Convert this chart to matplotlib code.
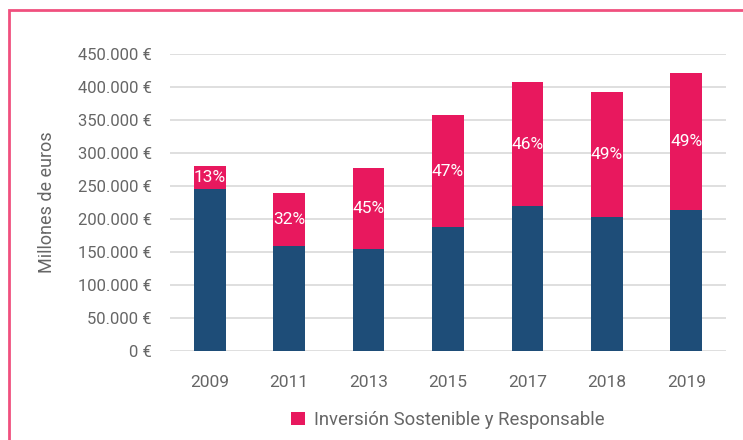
import matplotlib
matplotlib.use("Agg")
import matplotlib.pyplot as plt
from matplotlib.patches import Rectangle
from matplotlib.ticker import FuncFormatter

years = ['2009', '2011', '2013', '2015', '2017', '2018', '2019']
conventional = [245000, 159000, 155000, 188000, 220000, 203000, 214000]
sustainable = [35000, 80000, 122000, 169000, 187000, 189000, 207000]
pct_labels = ['13%', '32%', '45%', '47%', '46%', '49%', '49%']
y_ticks = [0, 50000, 100000, 150000, 200000, 250000, 300000, 350000, 400000, 450000]

BLUE = '#1E4D78'
PINK = '#E8185E'
GRAY = '#666666'

plt.rcParams['font.family'] = ['Roboto', 'DejaVu Sans']

fig = plt.figure(figsize=(7.43, 4.40), dpi=100)
ax = fig.add_axes([170/743, 1-351/440, (726-170)/743, (351-54)/440])

x = list(range(len(years)))
ax.bar(x, conventional, width=0.4, color=BLUE, zorder=3)
ax.bar(x, sustainable, width=0.4, bottom=conventional, color=PINK, zorder=3,
       label='Inversión Sostenible y Responsable')

for i, (c, s, p) in enumerate(zip(conventional, sustainable, pct_labels)):
    ax.text(i, c + s/2, p, ha='center', va='center', color='white', fontsize=12.5, zorder=4)

ax.set_xlim(-0.5, len(years) - 0.5)
ax.set_ylim(0, 450000)
ax.set_yticks(y_ticks)
ax.yaxis.set_major_formatter(FuncFormatter(lambda v, p: (f"{int(v):,}".replace(',', '.') + " €")))
ax.set_xticks(x)
ax.set_xticklabels(years)
ax.grid(axis='y', color='#D9D9D9', linewidth=1.2, zorder=0)
for sp in ax.spines.values():
    sp.set_visible(False)
ax.tick_params(axis='y', length=0, colors=GRAY, labelsize=12, pad=13)
ax.tick_params(axis='x', length=0, colors=GRAY, labelsize=12.5, pad=17)
ax.set_ylabel('Millones de euros', color=GRAY, fontsize=13, labelpad=16)

leg = ax.legend(loc='center', bbox_to_anchor=(0.5, -0.232), frameon=False, fontsize=13.3,
                handlelength=0.75, handleheight=0.75, handletextpad=0.5, labelcolor=GRAY)

fig.patches.append(Rectangle((9/743, -0.2), 1.2, 1 - 10/440 + 0.2, transform=fig.transFigure,
                             fill=False, edgecolor='#F0507E', linewidth=2))

fig.savefig('out.png', dpi=100)
